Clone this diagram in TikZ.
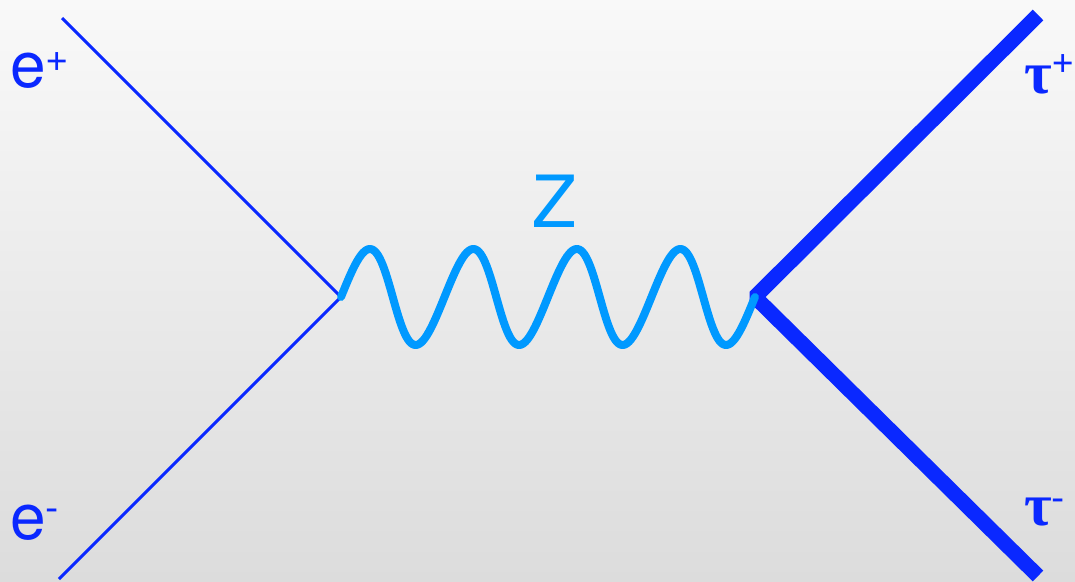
\documentclass[tikz,border=0pt]{standalone}
\usepackage{fontspec}
\setmainfont{TeX Gyre Heros}
\newfontfamily\taufont{Liberation Serif}
\definecolor{fermion}{RGB}{10,40,255}
\definecolor{boson}{RGB}{0,153,255}
\definecolor{bgtop}{RGB}{249,249,249}
\definecolor{bgbot}{RGB}{220,220,220}
\newcommand\supraise[2]{{\fontsize{40}{40}\selectfont\raisebox{#1pt}{#2}}}
\begin{document}
\begin{tikzpicture}[x=1pt,y=-1pt,
  thinline/.style={fermion,line width=3pt},
  thickline/.style={fermion,line width=15pt,line join=bevel},
  wave/.style={boson,line width=8pt,line join=round,line cap=round},
  lab/.style={inner sep=0pt,text=fermion,font=\fontsize{64}{64}\selectfont},
  taulab/.style={inner sep=0pt,text=fermion,font=\taufont\bfseries\fontsize{60}{60}\selectfont},
  zlab/.style={inner sep=0pt,text=boson,font=\fontsize{72}{72}\selectfont}]
\shade[top color=bgtop,bottom color=bgbot] (0,0) rectangle (1075,581);
\useasboundingbox (0,0) rectangle (1075,581);
% vertices and line ends
\coordinate (v1) at (341,297);
\coordinate (v2) at (755,297);
\coordinate (ein) at (62,18);
\coordinate (eout) at (59,579);
\coordinate (tp) at (1038,15);
\coordinate (tm) at (1038,576);
% fermion lines
\draw[thinline] (ein) -- (v1);
\draw[thinline] (v1) -- (eout);
\draw[thickline] (tp) -- (v2) -- (tm);
% Z boson
\draw[wave,shift={(v1)}] plot[domain=0:8*pi,samples=240,smooth]
  ({16.47*\x+3*sin(\x r)},{-48*sin(\x r)});
% labels
\node[lab,anchor=base west] (ep) at (10,87) {e\supraise{16}{+}};
\node[lab,anchor=base west] (em) at (10,539) {e\supraise{18}{-}};
\node[zlab,anchor=base] (z) at (554,227) {Z};
\node[taulab,anchor=base west] (tauplus) at (1024,93) {τ\supraise{20}{\mdseries\fontspec{TeX Gyre Heros}+}};
\node[taulab,anchor=base west] (tauminus) at (1024,525) {τ\supraise{14}{\mdseries\fontspec{TeX Gyre Heros}-}};
\end{tikzpicture}
\end{document}
